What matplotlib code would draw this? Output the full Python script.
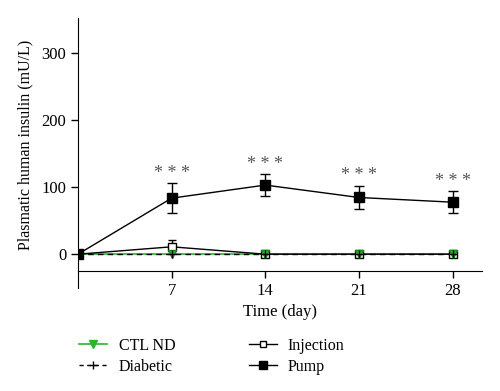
import matplotlib.pyplot as plt
from matplotlib.lines import Line2D

plt.rcParams.update({
    "font.family": ["Liberation Serif", "DejaVu Serif"],
    "font.size": 11.5,
})

days = [0, 7, 14, 21, 28]
pump_mean = [0, 83.5, 103, 84.5, 77.5]
pump_err = [0, 22.5, 16, 17.5, 16]
inj_mean = [0, 11, 0, 0, 0]
inj_err = [0, 10, 1, 1, 1]
ctl_mean = [0, 0, 0, 0, 0]
diab_mean = [0, 0, 0, 0, 0]
star_days = [7, 14, 21, 28]
star_labels = ["* * *", "* * *", "* * *", "* * *"]

fig = plt.figure(figsize=(5.0, 3.91), dpi=100)
ax = fig.add_axes([0.156, 0.307, 0.808, 0.647])

# CTL ND (green, solid) underneath the dashed diabetic line
ax.plot(days, ctl_mean, color="#2bb52b", lw=1.2, zorder=2)
ax.plot(days, diab_mean, color="black", lw=1.0, ls=(0, (4, 3)), zorder=3)

# Injection
ax.errorbar(days, inj_mean, yerr=[[0] * 5, inj_err], color="black", lw=1.0,
            marker="s", markersize=6, mfc="white", mec="black", mew=1.0,
            capsize=3, elinewidth=1.0, zorder=4)

# CTL ND markers
ax.plot(days, ctl_mean, ls="none", marker="v", markersize=6,
        color="#2bb52b", mec="#1a8a1a", zorder=5)
# Diabetic markers
ax.plot(days, diab_mean, ls="none", marker="+", markersize=6,
        color="black", mew=1.0, zorder=6)

# Pump
ax.errorbar(days, pump_mean, yerr=pump_err, color="black", lw=1.0,
            marker="s", markersize=7, mfc="black", mec="black",
            capsize=3.5, elinewidth=1.0, capthick=1.0, zorder=7)

for d, lab in zip(star_days, star_labels):
    i = days.index(d)
    ax.annotate(lab, (d, pump_mean[i] + pump_err[i]), xytext=(0, 1),
                textcoords="offset points", ha="center", va="bottom",
                color="#555555", fontsize=13)

ax.set_xlim(0, 30.2)
ax.set_ylim(-25, 352)
ax.set_xticks([7, 14, 21, 28])
ax.set_yticks([0, 100, 200, 300])
ax.spines["top"].set_visible(False)
ax.spines["right"].set_visible(False)
ax.spines["left"].set_bounds(-50, 352)
ax.tick_params(axis="both", direction="out", length=5, width=1.0, labelsize=12)
ax.set_xlabel("Time (day)", fontsize=12, labelpad=4)
ax.set_ylabel("Plasmatic human insulin (mU/L)", fontsize=11.5, labelpad=6)

handles = [
    Line2D([], [], color="#2bb52b", lw=1.2, marker="v", markersize=6,
           mfc="#2bb52b", mec="#2bb52b"),
    Line2D([], [], color="black", lw=1.0, ls=(0, (3, 2.5)), marker="+",
           markersize=6),
    Line2D([], [], color="black", lw=1.0, marker="s", markersize=4.5,
           mfc="white", mec="black"),
    Line2D([], [], color="black", lw=1.0, marker="s", markersize=6,
           mfc="black", mec="black"),
]
labels = ["CTL ND", "Diabetic", "Injection", "Pump"]
fig.legend(handles, labels, ncol=2, loc="upper left",
           bbox_to_anchor=(0.146, 0.152), frameon=False, fontsize=11.5,
           handlelength=1.75, handletextpad=0.7, columnspacing=4.6,
           labelspacing=0.3, borderaxespad=0.0)

fig.savefig("out.png", dpi=100)
